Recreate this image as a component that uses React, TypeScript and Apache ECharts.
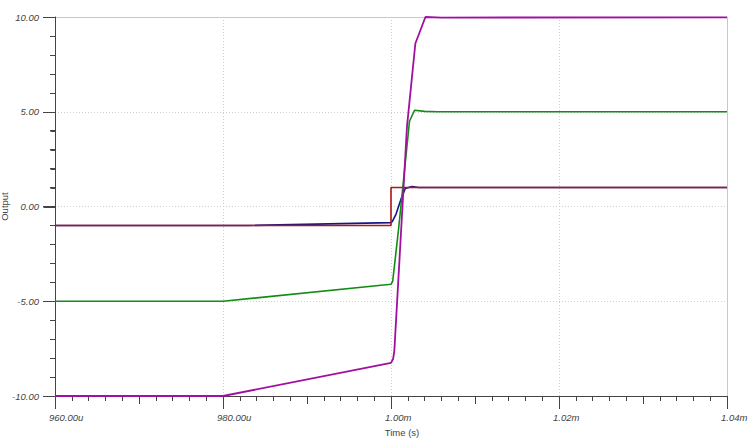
import React, { useEffect, useRef } from "react";
import * as echarts from "echarts";

// time in microseconds
const redData: [number, number][] = [[960, -1], [1000, -1], [1000, 1], [1040, 1]];
const blueData: [number, number][] = [
  [960, -1], [983, -1], [1000, -0.85], [1000.15, -0.8], [1000.6, -0.4], [1001.2, 0.4],
  [1001.7, 0.95], [1002.5, 1.05], [1003.3, 1.0], [1040, 1.0],
];
const greenData: [number, number][] = [
  [960, -5], [980, -5], [1000, -4.1], [1000.2, -3.95], [1000.9, -1.2], [1002.2, 4.5],
  [1002.8, 5.08], [1004, 5.02], [1005.5, 5.0], [1040, 5.0],
];
const purpleData: [number, number][] = [
  [960, -10], [980, -10], [1000, -8.25], [1000.25, -8.05], [1000.4, -7.6], [1001.9, 4.2],
  [1002.9, 8.6], [1004.1, 10.0], [1006, 9.97], [1040, 9.98],
];

// left axis tick values (major every 5, minor every 1)
const yTickValues = [-10, -9, -8, -7, -6, -5, -4, -3, -2, -1, 0, 1, 2, 3, 4, 5, 6, 7, 8, 9, 10];
const yMajorTicks = [-10, -5, 0, 5, 10];

const X_MIN = 960;
const X_MAX = 1040;
const Y_MIN = -10;
const Y_MAX = 10;

const fmtX = (v: number) => (v < 1000 ? v.toFixed(2) + "u" : (v / 1000).toFixed(2) + "m");
const fmtY = (v: number) => v.toFixed(2);

export default function App() {
  const ref = useRef<HTMLDivElement>(null);
  useEffect(() => {
    if (!ref.current) return;
    const chart = echarts.init(ref.current, undefined, { renderer: "svg" });
    const font = "'Liberation Sans', Arial, sans-serif";
    const axisColor = "#444";
    const borderColor = "#c8c8c8";
    const lineS = (name: string, data: [number, number][], color: string, w = 1.6) => ({
      name,
      type: "line",
      data,
      xAxisIndex: 0,
      yAxisIndex: 0,
      showSymbol: false,
      symbol: "none",
      clip: false,
      lineStyle: { color, width: w },
      itemStyle: { color },
    });
    const plainAxis = (position: string, min: number, max: number, interval: number) => ({
      type: "value",
      min,
      max,
      interval,
      position,
      axisLine: { show: true, onZero: false, lineStyle: { color: borderColor, width: 1 } },
      axisTick: { show: false },
      axisLabel: { show: false },
      splitLine: { show: false },
    });
    const crisp = (v: number) => Math.round(v) + 0.5;
    chart.setOption({
      animation: false,
      backgroundColor: "#fff",
      grid: {
        left: 55,
        right: 23,
        top: 17,
        bottom: 45,
        containLabel: false,
        outerBoundsMode: "none",
        show: false,
      },
      xAxis: [
        {
          type: "value",
          min: X_MIN,
          max: X_MAX,
          interval: 20,
          position: "bottom",
          name: "Time (s)",
          nameLocation: "middle",
          nameGap: 31,
          nameMoveOverlap: false,
          nameTextStyle: { fontFamily: font, fontSize: 9.5, color: "#444", padding: [0, 0, 0, 22] },
          axisLine: { show: true, onZero: false, lineStyle: { color: axisColor, width: 1 } },
          axisTick: { show: true, length: 13, lineStyle: { color: axisColor } },
          minorTick: { show: true, splitNumber: 10, length: 5, lineStyle: { color: axisColor } },
          axisLabel: {
            formatter: fmtX,
            fontFamily: font,
            fontSize: 9.5,
            fontStyle: "italic",
            color: "#444",
            margin: 16,
            align: "left",
            padding: [0, 0, 0, -6],
            showMinLabel: true,
            showMaxLabel: true,
          },
          splitLine: { show: true, lineStyle: { color: "#cfcfcf", type: [1, 2], width: 1 } },
        },
        {
          type: "value",
          min: X_MIN,
          max: X_MAX,
          interval: 10,
          position: "bottom",
          axisLine: { show: false, onZero: false },
          axisTick: { show: true, length: 8, lineStyle: { color: axisColor } },
          axisLabel: { show: false },
          splitLine: { show: false },
        },
        plainAxis("top", X_MIN, X_MAX, 20),
      ],
      yAxis: [
        {
          type: "value",
          min: Y_MIN,
          max: Y_MAX,
          interval: 5,
          position: "left",
          name: "Output",
          nameLocation: "middle",
          nameGap: 46,
          nameMoveOverlap: false,
          nameTextStyle: { fontFamily: font, fontSize: 9.5, color: "#444" },
          axisLine: { show: true, onZero: false, lineStyle: { color: axisColor, width: 1 } },
          axisTick: { show: true, inside: false, length: 12, lineStyle: { color: axisColor, width: 1 } },
          minorTick: { show: true, splitNumber: 5, length: 5, lineStyle: { color: axisColor, width: 1 } },
          axisLabel: {
            formatter: fmtY,
            fontFamily: font,
            fontSize: 9.5,
            fontStyle: "italic",
            color: "#444",
            margin: 16,
          },
          splitLine: { show: true, lineStyle: { color: "#cfcfcf", type: [1, 2], width: 1 } },
        },
        plainAxis("right", Y_MIN, Y_MAX, 5),
      ],
      series: [
        lineS("blue", blueData, "#12188a"),
        lineS("red", redData, "#b01414"),
        lineS("green", greenData, "#138c13"),
        lineS("purple", purpleData, "#a010a0", 1.8),
        {
          name: "leftAxisLine",
          type: "custom",
          xAxisIndex: 0,
          yAxisIndex: 0,
          clip: false,
          silent: true,
          z: 1,
          data: [[X_MIN, Y_MIN, Y_MAX]],
          encode: { x: 0, y: 1 },
          renderItem: (params: any, api: any) => {
            const a = api.coord([api.value(0), api.value(1)]);
            const b = api.coord([api.value(0), api.value(2)]);
            const x = crisp(a[0]);
            return {
              type: "line",
              shape: { x1: x, y1: a[1], x2: x, y2: b[1] },
              style: { stroke: axisColor, lineWidth: 1 },
            };
          },
        },
        {
          name: "leftAxisTicks",
          type: "custom",
          xAxisIndex: 0,
          yAxisIndex: 0,
          clip: false,
          silent: true,
          z: 1,
          data: yTickValues.map((v) => [X_MIN, v]),
          encode: { x: 0, y: 1 },
          renderItem: (params: any, api: any) => {
            const v = api.value(1);
            const p = api.coord([api.value(0), v]);
            const len = yMajorTicks.indexOf(v) >= 0 ? 12 : 5;
            const x = crisp(p[0]);
            const y = crisp(p[1]);
            return {
              type: "line",
              shape: { x1: x - len, y1: y, x2: x, y2: y },
              style: { stroke: axisColor, lineWidth: 1 },
            };
          },
        },
      ],
    });
    return () => chart.dispose();
  }, []);
  return (
    <div
      ref={ref}
      style={{ position: "fixed", left: 0, top: 0, width: 750, height: 441 }}
    />
  );
}
